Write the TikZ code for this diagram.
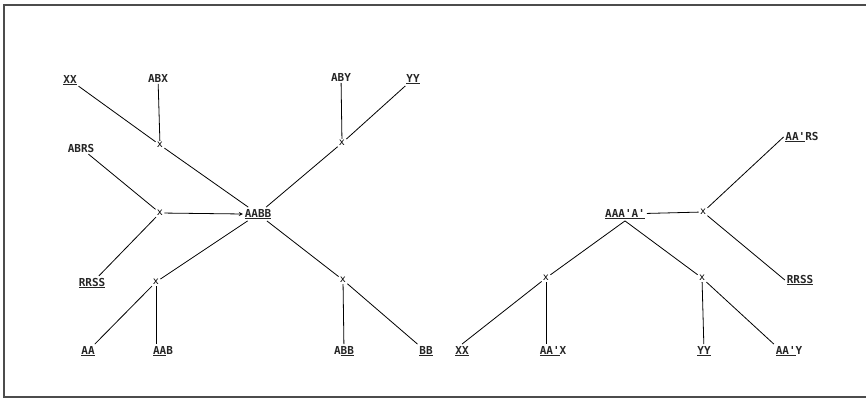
\documentclass[tikz,border=0pt]{standalone}
\usepackage{fontspec}
\newfontfamily\genofont{DejaVu Sans Mono}
\usetikzlibrary{arrows}
\tikzset{
	geno/.style={font=\genofont\bfseries\fontsize{11}{13}\selectfont,inner sep=1.5pt,text=black!85},
	kreuz/.style={font=\genofont\fontsize{10}{11}\selectfont,inner sep=1pt},
}
\begin{document}
\begin{tikzpicture}[x=1pt,y=-1pt,line width=0.8pt,>=stealth]
	\useasboundingbox (0,0) rectangle (866,401);
	\draw[line width=1.3pt,black!70] (866,5) -- (4,5) -- (4,397) -- (866,397);

	% linker Stammbaum
	\node[geno] (xx) at (70,80) {\underline{XX}}; \node[geno] (abx) at (158,78) {ABX};
	\node[kreuz] (k1) at (160,145) {x};
	\node[geno] (abrs) at (81,148) {ABRS}; \node[kreuz] (k2) at (160,213) {x};
	\node[geno] (aabb) at (258,214) {\underline{AABB}};
	\node[geno] (rrss) at (92,283) {\underline{RRSS}}; \node[kreuz] (k3) at (156,282) {x};
	\node[geno] (aa) at (88,351) {\underline{AA}}; \node[geno] (aab) at (163,351) {\underline{AA}B};
	\node[geno] (aby) at (341,77) {ABY}; \node[geno] (yy) at (413,79) {\underline{YY}};
	\node[kreuz] (k4) at (342,143) {x}; \node[kreuz] (k5) at (343,280) {x};
	\node[geno] (abb) at (344,351) {A\underline{BB}}; \node[geno] (bb) at (426,351) {\underline{BB}};

	\draw (xx) -- (k1); \draw (abx) -- (k1); \draw (k1) -- (aabb);
	\draw (abrs) -- (k2); \draw (rrss) -- (k2); \draw[->] (k2) -- (aabb.west);
	\draw (aabb) -- (k3); \draw (k3) -- (aa); \draw (k3) -- (k3 |- aab.north);
	\draw (aby) -- (k4); \draw (yy) -- (k4); \draw (k4) -- (aabb);
	\draw (aabb) -- (k5); \draw (k5) -- (abb); \draw (k5) -- (bb.north west);

	% rechter Stammbaum
	\node[geno] (aaaa) at (625,214) {\underline{AAA'A'}}; \node[kreuz] (k6) at (703,212) {x};
	\node[geno] (aars) at (802,137) {\underline{AA'}RS}; \node[geno] (rrssr) at (800,280) {\underline{RRSS}};
	\node[kreuz] (k7) at (546,278) {x}; \node[kreuz] (k8) at (702,278) {x};
	\node[geno] (xxr) at (462,351) {\underline{XX}}; \node[geno] (aax) at (553,351) {\underline{AA'}X};
	\node[geno] (yyr) at (704,351) {\underline{YY}}; \node[geno] (aay) at (789,351) {\underline{AA'}Y};

	\draw (aaaa) -- (k6); \draw (k6) -- (aars.west); \draw (k6) -- (rrssr.west);
	\draw (aaaa.south) -- (k7); \draw (k7) -- (xxr.north); \draw (k7) -- (k7 |- aax.north);
	\draw (aaaa.south) -- (k8); \draw (k8) -- (yyr); \draw (k8) -- (aay.north west);
\end{tikzpicture}
\end{document}
